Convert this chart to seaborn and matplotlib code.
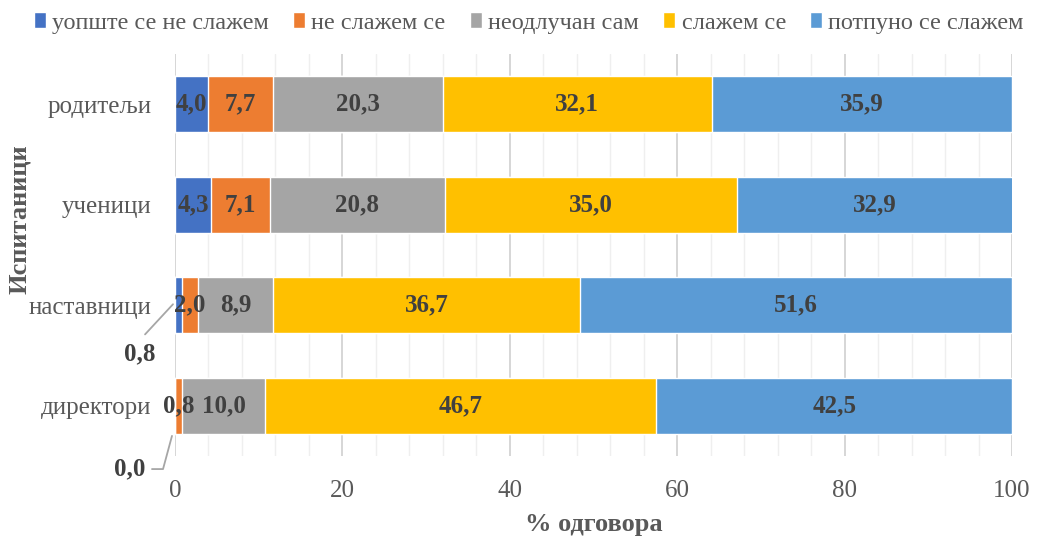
import matplotlib
matplotlib.use("Agg")
import matplotlib.pyplot as plt
import seaborn as sns
import pandas as pd
import numpy as np
from matplotlib.ticker import MultipleLocator

categories = ["родитељи", "ученици", "наставници", "директори"]
series = ["уопште се не слажем", "не слажем се", "неодлучан сам", "слажем се", "потпуно се слажем"]
v_strong_disagree = [4.0, 4.3, 0.8, 0.0]
v_disagree = [7.7, 7.1, 2.0, 0.8]
v_neutral = [20.3, 20.8, 8.9, 10.0]
v_agree = [32.1, 35.0, 36.7, 46.7]
v_strong_agree = [35.9, 32.9, 51.6, 42.5]
colors = ["#4472C4", "#ED7D31", "#A5A5A5", "#FFC000", "#5B9BD5"]

values = np.array([v_strong_disagree, v_disagree, v_neutral, v_agree, v_strong_agree])
cum = np.cumsum(values, axis=0)

sns.set_theme(style="white")
plt.rcParams["font.family"] = ["Liberation Serif", "DejaVu Serif"]

fig = plt.figure(figsize=(10.37, 5.42), dpi=100)
ax = fig.add_axes([175/1037, 1-456/542, (1012-175)/1037, (456-54)/542])

# draw from largest cumulative down so segments stack
for i in reversed(range(len(series))):
    df = pd.DataFrame({"cat": categories, "val": cum[i]})
    sns.barplot(data=df, x="val", y="cat", orient="h", color=colors[i],
                saturation=1, width=0.56, ax=ax, label=series[i], zorder=3)

ax.set_xlim(0, 100)
ax.set_ylim(3.5, -0.5)
ax.set_xticks([0, 20, 40, 60, 80, 100])
ax.xaxis.set_minor_locator(MultipleLocator(4))
ax.grid(axis="x", which="major", color="#D0D0D0", linewidth=1.2, zorder=0)
ax.grid(axis="x", which="minor", color="#EFEFEF", linewidth=1, zorder=0)
ax.set_axisbelow(True)
for s in ax.spines.values():
    s.set_visible(False)
ax.tick_params(axis="x", which="both", labelsize=18, colors="#595959", pad=17, length=0)
ax.tick_params(axis="y", labelsize=18, colors="#595959", pad=17, length=0)
ax.set_xlabel("% одговора", fontsize=19, fontweight="bold", color="#595959", labelpad=8)
ax.set_ylabel("Испитаници", fontsize=19, fontweight="bold", color="#595959")
ax.yaxis.set_label_coords(-0.172, 0.59)

lab_kw = dict(ha="center", va="center", fontsize=18, fontweight="bold", color="#404040", zorder=5)
for j, cat in enumerate(categories):
    for i in range(len(series)):
        val = values[i, j]
        start = cum[i, j] - val
        txt = f"{val:.1f}".replace(".", ",")
        if j == 2 and i == 0:
            ax.text(-4.2, 2.48, txt, clip_on=False, **lab_kw)
            ax.plot([-3.58, -0.24], [2.29, 1.99], color="#A6A6A6", lw=1.3,
                    clip_on=False, zorder=6)
            continue
        if j == 3 and i == 0:
            ax.text(-5.4, 3.63, txt, clip_on=False, **lab_kw)
            ax.plot([-2.75, -1.43, -0.36], [3.63, 3.63, 3.30], color="#A6A6A6",
                    lw=1.3, clip_on=False, zorder=6)
            continue
        ax.text(start + val / 2, j, txt, **lab_kw)

handles, labels = ax.get_legend_handles_labels()
order = [labels.index(s) for s in series]
ax.legend([handles[k] for k in order], [labels[k] for k in order],
          loc="center", bbox_to_anchor=(0.51, 1 - 23/542), bbox_transform=fig.transFigure,
          ncol=5, frameon=False, fontsize=17.5, handlelength=0.5, handleheight=0.6,
          handletextpad=0.25, columnspacing=1.0, labelcolor="#595959")

fig.savefig("out.png", dpi=100)
